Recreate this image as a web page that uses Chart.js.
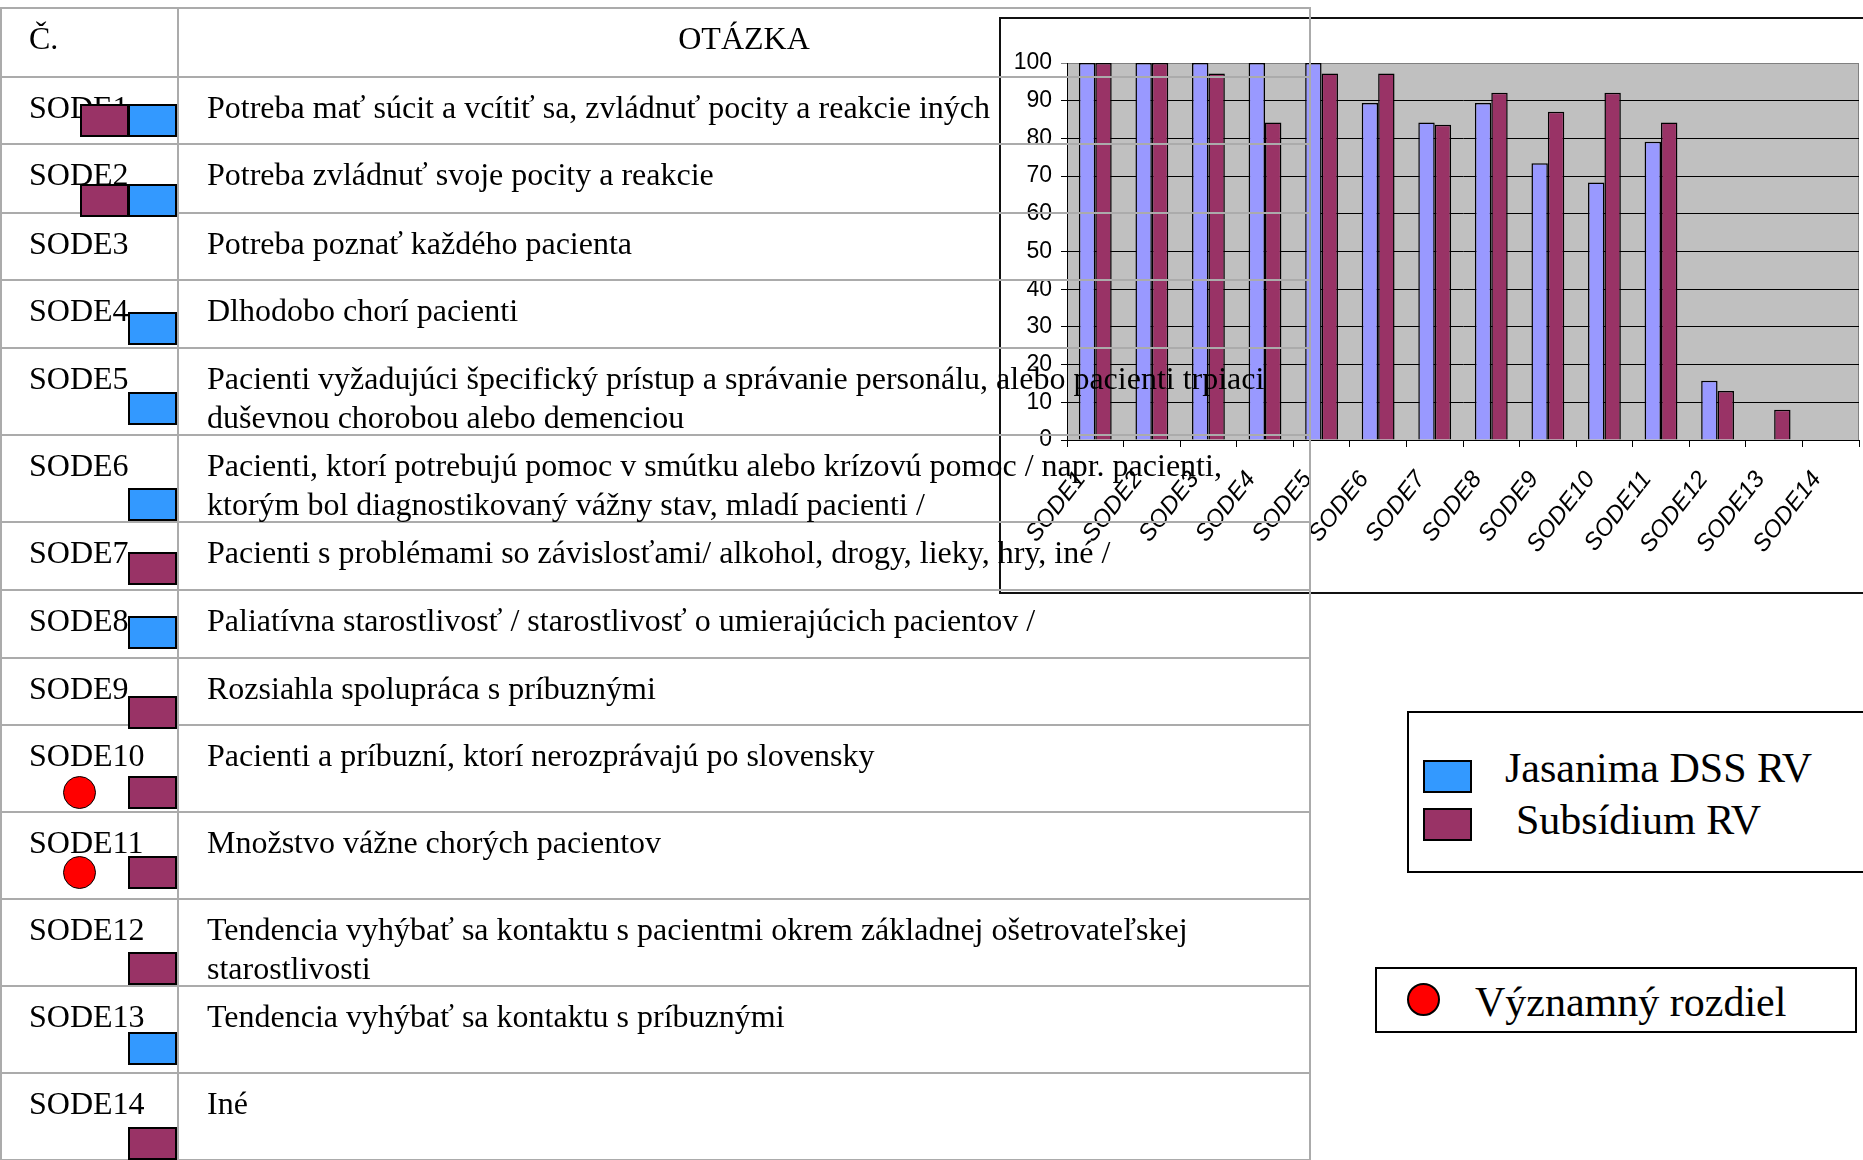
<!DOCTYPE html>
<html lang="sk">
<head>
<meta charset="utf-8">
<title>SODE</title>
<script src="https://cdn.jsdelivr.net/npm/chart.js@4.4.1/dist/chart.umd.min.js"></script>
<style>
  html, body { margin: 0; padding: 0; background: #fff; }
  body {
    width: 1863px; height: 1160px; position: relative; overflow: hidden;
    font-family: 'Liberation Serif', 'Times New Roman', serif; color: #000;
  }
  #chartBox {
    position: absolute; left: 999px; top: 17px; width: 880px; height: 573px;
    border: 2px solid #111; border-right: none; background: #fff; z-index: 1;
  }
  #chartBox canvas { display: block; }
  #table {
    position: absolute; left: 0; top: 7px; width: 1311px; z-index: 2;
    border-top: 2px solid #ababab; border-left: 2px solid #ababab; border-right: 2px solid #ababab;
    box-sizing: border-box;
  }
  .row { display: flex; box-sizing: border-box; border-bottom: 2px solid #ababab; }
  .cell { box-sizing: border-box; font-size: 32px; line-height: 38.5px; padding-top: 10px; white-space: nowrap; }
  .c1 { width: 177px; padding-left: 27px; border-right: 2px solid #ababab; }
  .c2 { flex: 1; padding-left: 28px; }
  .c2.head { text-align: center; padding-left: 0; }
  .mark {
    position: absolute; width: 49px; height: 33px; box-sizing: border-box;
    border: 2px solid #000; z-index: 3;
  }
  .dot {
    position: absolute; width: 33px; height: 33px; box-sizing: border-box;
    border: 1.5px solid #000; border-radius: 50%; background: #ff0000; z-index: 3;
  }
  .box { position: absolute; border: 2px solid #000; box-sizing: border-box; background: #fff; }
  .legText { position: absolute; font-size: 42px; line-height: 42px; white-space: nowrap; }
</style>
</head>
<body>
<div id="chartBox"><canvas id="chart" width="862" height="573"></canvas></div>
<div id="table"></div>
<div id="marks"></div>
<div id="legend"></div>

<script>
// chart data
const categories = ['SODE1', 'SODE2', 'SODE3', 'SODE4', 'SODE5', 'SODE6', 'SODE7',
  'SODE8', 'SODE9', 'SODE10', 'SODE11', 'SODE12', 'SODE13', 'SODE14'];
const seriesNames = ['Jasanima DSS RV', 'Subsídium RV'];
const jasanimaValues = [100, 100, 100, 100, 100, 89.4, 84.2, 89.4, 73.4, 68.3, 79.1, 15.7, 0, 0];
const subsidiumValues = [100, 100, 97.2, 84.2, 97.2, 97.2, 83.6, 92.1, 87.1, 92.1, 84.2, 13, 8, 0];

// table data
const headerLabels = ['Č.', 'OTÁZKA'];
const questions = [
  ['Potreba mať súcit a vcítiť sa, zvládnuť pocity a reakcie iných'],
  ['Potreba zvládnuť svoje pocity a reakcie'],
  ['Potreba poznať každého pacienta'],
  ['Dlhodobo chorí pacienti'],
  ['Pacienti vyžadujúci špecifický prístup a správanie personálu, alebo pacienti trpiaci', 'duševnou chorobou alebo demenciou'],
  ['Pacienti, ktorí potrebujú pomoc v smútku alebo krízovú pomoc / napr. pacienti,', 'ktorým bol diagnostikovaný vážny stav, mladí pacienti /'],
  ['Pacienti s problémami so závislosťami/ alkohol, drogy, lieky, hry, iné /'],
  ['Paliatívna starostlivosť / starostlivosť o umierajúcich pacientov /'],
  ['Rozsiahla spolupráca s príbuznými'],
  ['Pacienti a príbuzní, ktorí nerozprávajú po slovensky'],
  ['Množstvo vážne chorých pacientov'],
  ['Tendencia vyhýbať sa kontaktu s pacientmi okrem základnej ošetrovateľskej', 'starostlivosti'],
  ['Tendencia vyhýbať sa kontaktu s príbuznými'],
  ['Iné']
];
// which group's marker sits in each row (S = Subsídium, J = Jasanima)
const rowMarks = [['S', 'J'], ['S', 'J'], [], ['J'], ['J'], ['J'], ['S'], ['J'], ['S'], ['S'], ['S'], ['S'], ['J'], ['S']];
const significantRows = ['SODE10', 'SODE11'];
const significanceLabel = 'Významný rozdiel';

// layout
const rowLines = [8, 76, 143, 212, 279, 347, 434, 521, 589, 657, 724, 811, 898, 985, 1072, 1159];
const markTops = [104, 184, null, 312, 392, 488, 552, 616, 696, 776, 856, 952, 1032, 1127];
const groupColors = { J: '#3399FF', S: '#993366' };

// table
const table = document.getElementById('table');
const addRow = (height, first, lines, head) => {
  const row = document.createElement('div');
  row.className = 'row';
  row.style.height = height + 'px';
  const c1 = document.createElement('div');
  c1.className = 'cell c1';
  c1.textContent = first;
  const c2 = document.createElement('div');
  c2.className = 'cell c2' + (head ? ' head' : '');
  c2.innerHTML = lines.join('<br>');
  row.appendChild(c1);
  row.appendChild(c2);
  table.appendChild(row);
};
addRow(rowLines[1] - rowLines[0] + 1, headerLabels[0], [headerLabels[1]], true);
categories.forEach((cat, i) => {
  addRow(rowLines[i + 2] - rowLines[i + 1], cat, questions[i], false);
});

// markers in first column
const marks = document.getElementById('marks');
rowMarks.forEach((m, i) => {
  m.forEach((g, k) => {
    const d = document.createElement('div');
    d.className = 'mark';
    d.style.background = groupColors[g];
    d.style.left = (m.length === 2 && k === 0 ? 80 : 128) + 'px';
    d.style.top = markTops[i] + 'px';
    marks.appendChild(d);
  });
  if (significantRows.includes(categories[i])) {
    const c = document.createElement('div');
    c.className = 'dot';
    c.style.left = '63px';
    c.style.top = markTops[i] + 'px';
    marks.appendChild(c);
  }
});

// legend boxes
const legend = document.getElementById('legend');
legend.innerHTML =
  '<div class="box" style="left:1407px;top:711px;width:480px;height:162px"></div>' +
  '<div class="mark" style="left:1423px;top:760px;background:' + groupColors.J + '"></div>' +
  '<div class="mark" style="left:1423px;top:808px;background:' + groupColors.S + '"></div>' +
  '<div class="legText" style="left:1505px;top:747px">' + seriesNames[0] + '</div>' +
  '<div class="legText" style="left:1516px;top:799px">' + seriesNames[1] + '</div>' +
  '<div class="box" style="left:1375px;top:967px;width:482px;height:66px"></div>' +
  '<div class="dot" style="left:1407px;top:983px;border-width:2px"></div>' +
  '<div class="legText" style="left:1475px;top:981px">' + significanceLabel + '</div>';

// chart
const plotBackground = {
  id: 'plotBackground',
  beforeDraw(chart) {
    const { ctx, chartArea: a } = chart;
    ctx.save();
    ctx.fillStyle = '#C0C0C0';
    ctx.fillRect(a.left, a.top, a.right - a.left, a.bottom - a.top);
    ctx.strokeStyle = '#808080';
    ctx.lineWidth = 1;
    ctx.beginPath();
    ctx.moveTo(a.left, a.top + 0.5);
    ctx.lineTo(a.right - 0.5, a.top + 0.5);
    ctx.lineTo(a.right - 0.5, a.bottom);
    ctx.stroke();
    ctx.restore();
  }
};

const ctx = document.getElementById('chart').getContext('2d');
const config = {
  type: 'bar',
  data: {
    labels: categories,
    datasets: [
      {
        label: seriesNames[0],
        data: jasanimaValues,
        backgroundColor: '#9999FF',
        borderColor: '#000',
        borderWidth: 1.5,
        barPercentage: 1,
        categoryPercentage: 0.58,
      },
      {
        label: seriesNames[1],
        data: subsidiumValues,
        backgroundColor: '#993366',
        borderColor: '#000',
        borderWidth: 1.5,
        barPercentage: 1,
        categoryPercentage: 0.58,
      },
    ],
  },
  options: {
    responsive: false,
    animation: false,
    layout: { padding: { top: 44, right: 4, left: 0, bottom: 0 } },
    plugins: { legend: { display: false }, tooltip: { enabled: false } },
    scales: {
      x: {
        grid: { offset: true, drawOnChartArea: false, drawTicks: true, tickLength: 7, color: '#000' },
        border: { color: '#000', width: 1 },
        ticks: {
          autoSkip: false, minRotation: 52, maxRotation: 52, padding: 19, labelOffset: -14, color: '#000',
          font: { family: "'Liberation Sans', Arial, sans-serif", size: 24, style: 'italic' },
        },
        afterFit: (s) => {
          s.height = 152;
          // keep the plot area edges where the picture has them
          s.paddingLeft = 0;
          s.paddingRight = 0;
        },
      },
      y: {
        min: 0,
        max: 100,
        ticks: {
          stepSize: 10, padding: 9, color: '#000',
          font: { family: "'Liberation Sans Narrow', 'Liberation Sans', Arial, sans-serif", size: 23 },
        },
        grid: { color: (c) => (c.tick && c.tick.value === 100 ? '#808080' : '#000'), tickLength: 6 },
        border: { color: '#000', width: 1 },
        afterFit: (s) => { s.width = 66; },
      },
    },
  },
  plugins: [plotBackground],
};
new Chart(ctx, config);
</script>
</body>
</html>
